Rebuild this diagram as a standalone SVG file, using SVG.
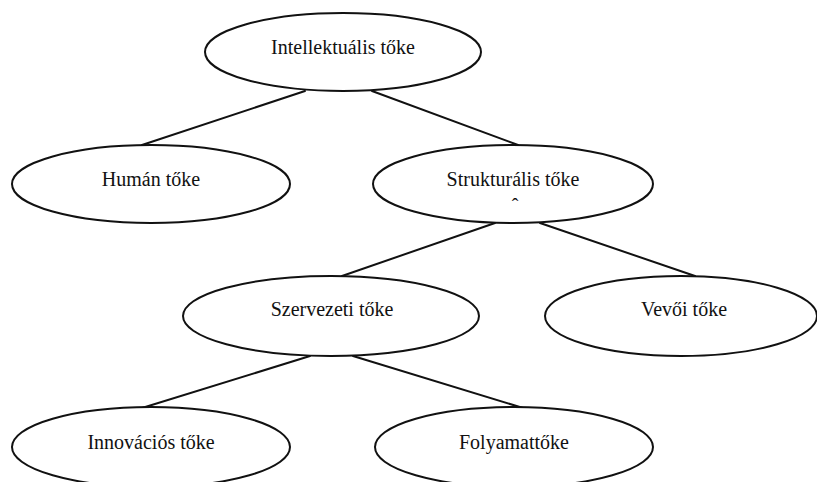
<svg xmlns="http://www.w3.org/2000/svg" width="817" height="482" viewBox="0 0 817 482">
  <style>
    .node ellipse { fill: #ffffff; stroke: #111111; stroke-width: 2; }
    .node text { font-family: "Liberation Serif", "Times New Roman", serif; font-size: 20px; fill: #111111; text-anchor: middle; }
    #connectors line { stroke: #111111; stroke-width: 2; stroke-linecap: round; }
  </style>
  <rect width="817" height="482" fill="#ffffff"/>

  <g id="connectors">
    <line x1="305" y1="91" x2="142" y2="145"/>
    <line x1="372" y1="91" x2="518" y2="145"/>
    <line x1="495" y1="223" x2="342" y2="276"/>
    <line x1="540" y1="223" x2="695" y2="276"/>
    <line x1="310" y1="356" x2="142" y2="408"/>
    <line x1="353" y1="356" x2="523" y2="408"/>
  </g>

  <g id="intellektualis" class="node">
    <ellipse cx="343" cy="52" rx="138" ry="39"/>
    <text x="343" y="54">Intellektuális tőke</text>
  </g>

  <g id="human" class="node">
    <ellipse cx="151" cy="184" rx="139" ry="39"/>
    <text x="151" y="186">Humán tőke</text>
  </g>

  <g id="strukturalis" class="node">
    <ellipse cx="513" cy="184" rx="140" ry="39"/>
    <text x="513" y="186">Strukturális tőke</text>
    <text x="515" y="213">ˆ</text>
  </g>

  <g id="szervezeti" class="node">
    <ellipse cx="331" cy="316" rx="148" ry="40"/>
    <text x="332" y="316">Szervezeti tőke</text>
  </g>

  <g id="vevoi" class="node">
    <ellipse cx="681" cy="316" rx="136" ry="40"/>
    <text x="684" y="316">Vevői tőke</text>
  </g>

  <g id="innovacios" class="node">
    <ellipse cx="151" cy="447" rx="139" ry="40"/>
    <text x="151" y="449">Innovációs tőke</text>
  </g>

  <g id="folyamat" class="node">
    <ellipse cx="514" cy="447" rx="139" ry="40"/>
    <text x="514" y="449">Folyamattőke</text>
  </g>
</svg>
